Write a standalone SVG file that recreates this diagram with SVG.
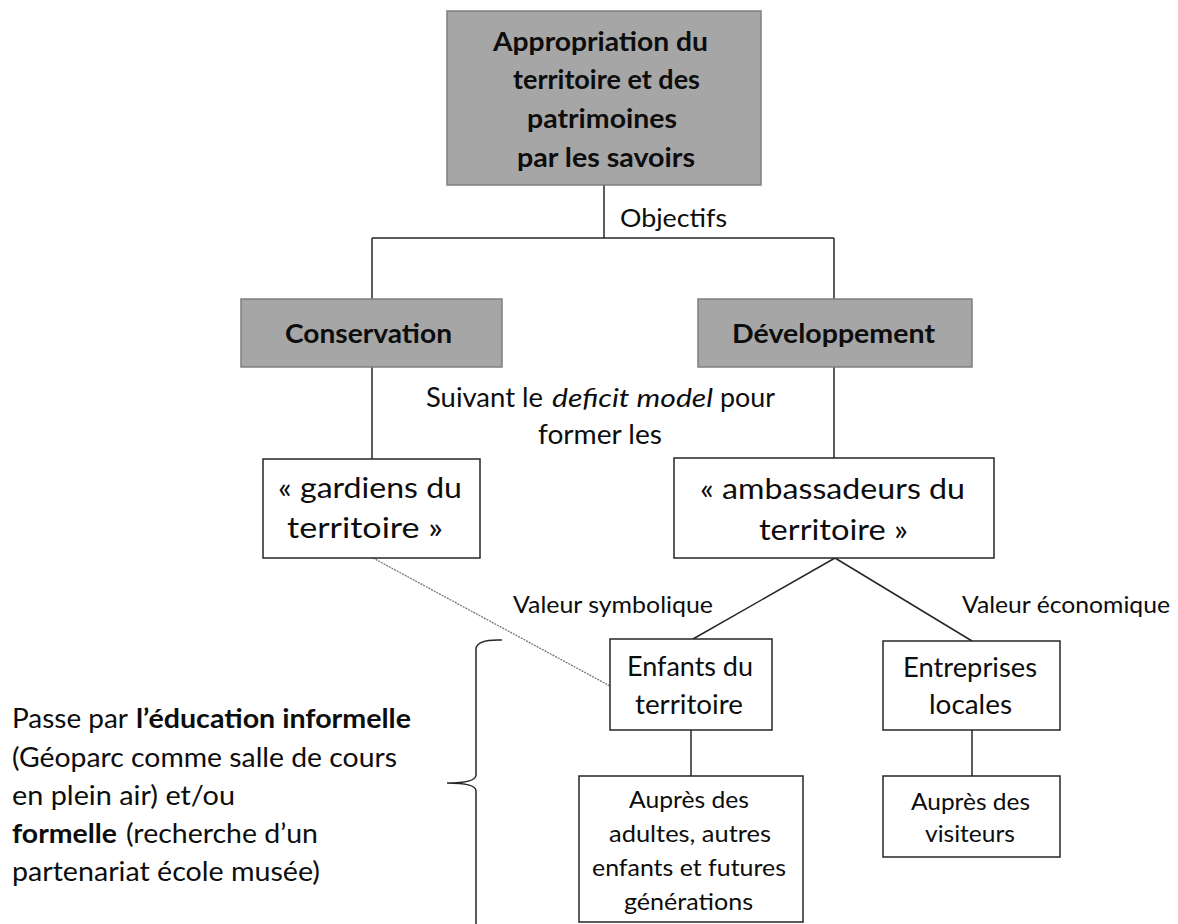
<svg xmlns="http://www.w3.org/2000/svg" width="1178" height="924" viewBox="0 0 1178 924">
<style>
.g{fill:#a6a6a6;stroke:#7f7f7f;stroke-width:1.5}
.w{fill:#fff;stroke:#262626;stroke-width:1.5}
text{font-family:Lato,"Liberation Sans",sans-serif;fill:#0d0d0d;font-size:26px}
.b{font-weight:bold}
.i{font-style:italic}
.ln{stroke:#262626;stroke-width:1.5;fill:none}
.dot{stroke:#777;stroke-width:1.3;fill:none;stroke-dasharray:2 1}
</style>
<rect width="1178" height="924" fill="#fff"/>
<g id="connectors">
<line class="ln" x1="604" y1="185" x2="604" y2="238"/>
<line class="ln" x1="372" y1="238" x2="834" y2="238"/>
<line class="ln" x1="372" y1="238" x2="372" y2="299"/>
<line class="ln" x1="834" y1="238" x2="834" y2="299"/>
<line class="ln" x1="372" y1="367" x2="372" y2="459"/>
<line class="ln" x1="834" y1="367" x2="834" y2="458"/>
<line class="dot" x1="373" y1="558" x2="610" y2="686"/>
<line class="ln" x1="835" y1="558" x2="693" y2="639"/>
<line class="ln" x1="835" y1="558" x2="972" y2="641"/>
<line class="ln" x1="691" y1="730" x2="691" y2="776"/>
<line class="ln" x1="972" y1="730" x2="972" y2="776"/>
<text x="620" y="227" textLength="107" lengthAdjust="spacingAndGlyphs" style="font-size:25px">Objectifs</text>
<text x="426" y="407" textLength="117" lengthAdjust="spacingAndGlyphs">Suivant le</text>
<text class="i" x="552" y="407" textLength="161" lengthAdjust="spacingAndGlyphs">deficit model</text>
<text x="720" y="407" textLength="55" lengthAdjust="spacingAndGlyphs">pour</text>
<text x="538" y="444" textLength="124" lengthAdjust="spacingAndGlyphs">former les</text>
<text x="513" y="613" textLength="200" lengthAdjust="spacingAndGlyphs" style="font-size:24px">Valeur symbolique</text>
<text x="962" y="613" textLength="208" lengthAdjust="spacingAndGlyphs" style="font-size:24px">Valeur économique</text>
</g>
<g id="top">
<rect class="g" x="447" y="11" width="314" height="174"/>
<text class="b" x="493" y="51" textLength="215" lengthAdjust="spacingAndGlyphs" style="font-size:27px">Appropriation du</text>
<text class="b" x="513" y="89" textLength="187" lengthAdjust="spacingAndGlyphs" style="font-size:27px">territoire et des</text>
<text class="b" x="527" y="128" textLength="150" lengthAdjust="spacingAndGlyphs" style="font-size:27px">patrimoines</text>
<text class="b" x="517" y="167" textLength="178" lengthAdjust="spacingAndGlyphs" style="font-size:27px">par les savoirs</text>
</g>
<g id="conservation">
<rect class="g" x="241" y="299" width="261" height="68"/>
<text class="b" x="285" y="343" textLength="167" lengthAdjust="spacingAndGlyphs" style="font-size:27px">Conservation</text>
</g>
<g id="developpement">
<rect class="g" x="698" y="299" width="274" height="68"/>
<text class="b" x="732" y="343" textLength="203" lengthAdjust="spacingAndGlyphs" style="font-size:27px">Développement</text>
</g>
<g id="gardiens">
<rect class="w" x="263" y="459" width="217" height="99"/>
<text x="278" y="498" textLength="184" lengthAdjust="spacingAndGlyphs" style="font-size:28px">« gardiens du</text>
<text x="287" y="538" textLength="156" lengthAdjust="spacingAndGlyphs" style="font-size:28px">territoire »</text>
</g>
<g id="ambassadeurs">
<rect class="w" x="674" y="458" width="320" height="100"/>
<text x="700" y="499" textLength="265" lengthAdjust="spacingAndGlyphs" style="font-size:28px">« ambassadeurs du</text>
<text x="759" y="540" textLength="149" lengthAdjust="spacingAndGlyphs" style="font-size:28px">territoire »</text>
</g>
<g id="enfants">
<rect class="w" x="610" y="639" width="162" height="91"/>
<text x="627" y="676" textLength="126" lengthAdjust="spacingAndGlyphs">Enfants du</text>
<text x="635" y="714" textLength="108" lengthAdjust="spacingAndGlyphs">territoire</text>
</g>
<g id="entreprises">
<rect class="w" x="883" y="641" width="177" height="89"/>
<text x="903" y="677" textLength="134" lengthAdjust="spacingAndGlyphs">Entreprises</text>
<text x="929" y="714" textLength="83" lengthAdjust="spacingAndGlyphs">locales</text>
</g>
<g id="aupres-adultes">
<rect class="w" x="579" y="776" width="224" height="146"/>
<text x="629" y="808" textLength="120" lengthAdjust="spacingAndGlyphs" style="font-size:23px">Auprès des</text>
<text x="609" y="842" textLength="162" lengthAdjust="spacingAndGlyphs" style="font-size:23px">adultes, autres</text>
<text x="592" y="876" textLength="194" lengthAdjust="spacingAndGlyphs" style="font-size:23px">enfants et futures</text>
<text x="624" y="910" textLength="129" lengthAdjust="spacingAndGlyphs" style="font-size:23px">générations</text>
</g>
<g id="aupres-visiteurs">
<rect class="w" x="883" y="776" width="177" height="81"/>
<text x="911" y="810" textLength="119" lengthAdjust="spacingAndGlyphs" style="font-size:23px">Auprès des</text>
<text x="925" y="842" textLength="90" lengthAdjust="spacingAndGlyphs" style="font-size:23px">visiteurs</text>
</g>
<g id="brace">
<path class="ln" d="M502,640 Q478,639 476,648 L476,775 Q476,783 447,783 Q476,783 476,791 L476,930"/>
</g>
<g id="education">
<text x="12" y="728" textLength="116" lengthAdjust="spacingAndGlyphs" style="font-size:27px">Passe par</text>
<text class="b" x="136" y="728" textLength="275" lengthAdjust="spacingAndGlyphs" style="font-size:27px">l’éducation informelle</text>
<text x="12" y="767" textLength="385" lengthAdjust="spacingAndGlyphs" style="font-size:27px">(Géoparc comme salle de cours</text>
<text x="12" y="805" textLength="223" lengthAdjust="spacingAndGlyphs" style="font-size:27px">en plein air) et/ou</text>
<text class="b" x="12" y="843" textLength="105" lengthAdjust="spacingAndGlyphs" style="font-size:27px">formelle</text>
<text x="126" y="843" textLength="192" lengthAdjust="spacingAndGlyphs" style="font-size:27px">(recherche d’un</text>
<text x="12" y="881" textLength="308" lengthAdjust="spacingAndGlyphs" style="font-size:27px">partenariat école musée)</text>
</g>
</svg>
